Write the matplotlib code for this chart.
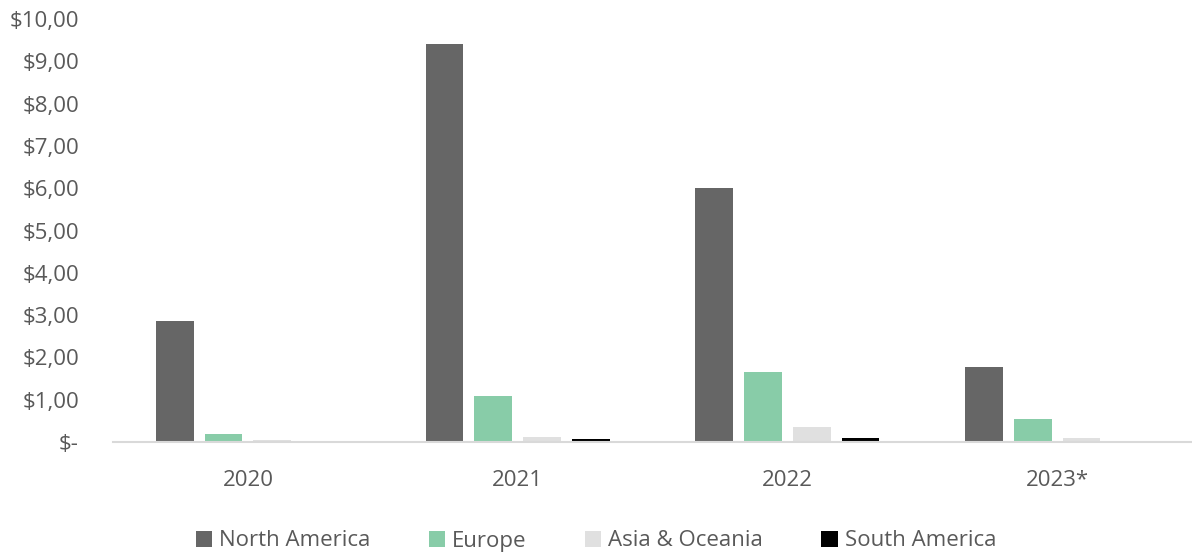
import matplotlib
matplotlib.use("Agg")
import matplotlib.pyplot as plt
import numpy as np

years = ["2020", "2021", "2022", "2023*"]
regions = ["North America", "Europe", "Asia & Oceania", "South America"]

north_america = [2.87, 9.41, 6.00, 1.78]
europe = [0.19, 1.09, 1.66, 0.55]
asia_oceania = [0.05, 0.12, 0.36, 0.10]
south_america = [0.00, 0.06, 0.10, 0.00]

colors = ["#666666", "#88CCA8", "#E0E0E0", "#000000"]
text_color = "#595959"

plt.rcParams["font.family"] = ["Open Sans", "DejaVu Sans"]


def money(v, _pos=None):
    if abs(v) < 1e-9:
        return "$-"
    return "${:.2f}".format(v).replace(".", ",")


fig = plt.figure(figsize=(11.92, 5.56), dpi=100)
ax = fig.add_axes([113 / 1192, 1 - 442 / 556, 1 - 113 / 1192, 423 / 556])

x = np.arange(len(years))
width = 0.14
step = 0.181
series = [north_america, europe, asia_oceania, south_america]
for i, (name, vals) in enumerate(zip(regions, series)):
    offset = (i - 1.5) * step
    ax.bar(x + offset, vals, width, color=colors[i], label=name)

ax.set_xlim(-0.5, 3.5)
ax.set_ylim(0, 10)
ax.set_yticks(np.arange(0, 11, 1))
ax.yaxis.set_major_formatter(plt.FuncFormatter(money))
ax.set_xticks(x)
ax.set_xticklabels(years)

for side in ["top", "right", "left"]:
    ax.spines[side].set_visible(False)
ax.spines["bottom"].set_color("#D9D9D9")
ax.spines["bottom"].set_linewidth(1.5)
ax.tick_params(axis="both", length=0, labelsize=16, colors=text_color)
ax.tick_params(axis="x", pad=20)
ax.tick_params(axis="y", pad=24.5)

leg = fig.legend(loc="center", bbox_to_anchor=(0.5, 1 - 541 / 556), ncol=4,
                 frameon=False, fontsize=16, handlelength=0.75, handleheight=0.75,
                 handletextpad=0.32, columnspacing=2.6)
for t in leg.get_texts():
    t.set_color(text_color)

fig.savefig("out.png", dpi=100)
